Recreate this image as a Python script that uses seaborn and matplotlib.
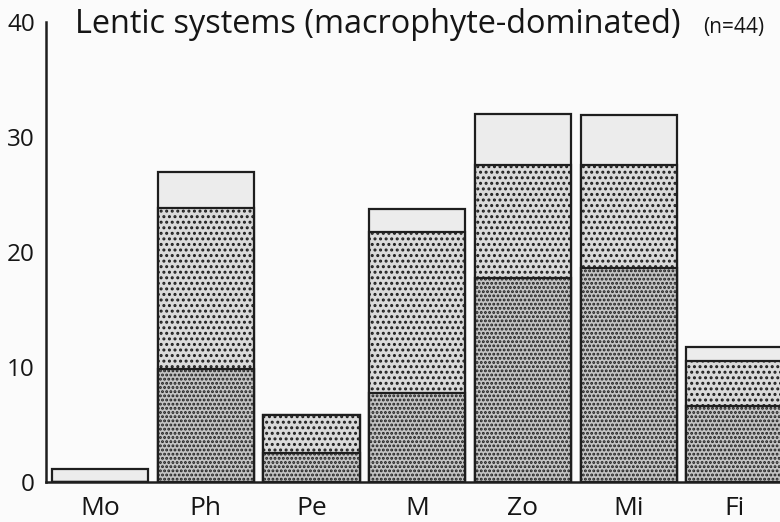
import matplotlib
matplotlib.use("Agg")
import matplotlib.pyplot as plt
import seaborn as sns
import numpy as np
import pandas as pd

categories = ["Mo", "Ph", "Pe", "M", "Zo", "Mi", "Fi"]
bottom_seg = [0.0, 9.8, 2.5, 7.7, 17.7, 18.6, 6.6]
middle_seg = [0.0, 14.0, 3.3, 14.0, 9.9, 9.0, 3.9]
top_seg = [1.1, 3.2, 0.0, 2.0, 4.4, 4.3, 1.2]
yticks = [0, 10, 20, 30, 40]
title = "Lentic systems (macrophyte-dominated)"
subtitle = "(n=44)"

sns.set_theme(style="white")
plt.rcParams['font.family'] = ['Open Sans', 'DejaVu Sans']
plt.rcParams['hatch.color'] = '#2a2a2a'
plt.rcParams['hatch.linewidth'] = 1.4

df = pd.DataFrame({"cat": categories, "b": bottom_seg, "m": middle_seg, "t": top_seg})
df["c1"] = df["b"]
df["c2"] = df["b"] + df["m"]
df["c3"] = df["c2"] + df["t"]

fig = plt.figure(figsize=(7.8, 5.22), dpi=100, facecolor="#fbfbfb")
ax = fig.add_axes([46/780, 40/522, 1 - 46/780, 460/522])
ax.set_facecolor("none")

w = 0.91
sns.barplot(data=df, x="cat", y="c3", order=categories, color="#ececec", width=w,
            edgecolor="#1e1e1e", linewidth=1.6, saturation=1, ax=ax, errorbar=None)
sns.barplot(data=df, x="cat", y="c2", order=categories, color="#dadada", width=w,
            edgecolor="#1e1e1e", linewidth=1.6, hatch="...", saturation=1, ax=ax, errorbar=None)
sns.barplot(data=df, x="cat", y="c1", order=categories, color="#c4c4c4", width=w,
            edgecolor="#1e1e1e", linewidth=1.6, hatch="....", saturation=1, ax=ax, errorbar=None)

ax.set_xlim(-0.51, 6.43)
ax.set_ylim(0, 40)
ax.set_yticks(yticks)
ax.set_yticklabels([str(v) for v in yticks])
ax.set_xlabel("")
ax.set_ylabel("")
for s in ["top", "right"]:
    ax.spines[s].set_visible(False)
for s in ["left", "bottom"]:
    ax.spines[s].set_linewidth(1.8)
    ax.spines[s].set_color("#1e1e1e")
ax.tick_params(axis="y", direction="in", length=6, width=1.6, color="#1e1e1e",
               labelsize=17.5, pad=8, labelcolor="#151515")
ax.tick_params(axis="x", length=0, labelsize=19, pad=10, labelcolor="#151515")

fig.text(75/780, 1 - 33/522, title, fontsize=23.4, color="#151515", va="baseline", ha="left")
fig.text(703/780, 1 - 33/522, subtitle, fontsize=15, color="#151515", va="baseline", ha="left")

fig.savefig("out.png", dpi=100, facecolor=fig.get_facecolor())
